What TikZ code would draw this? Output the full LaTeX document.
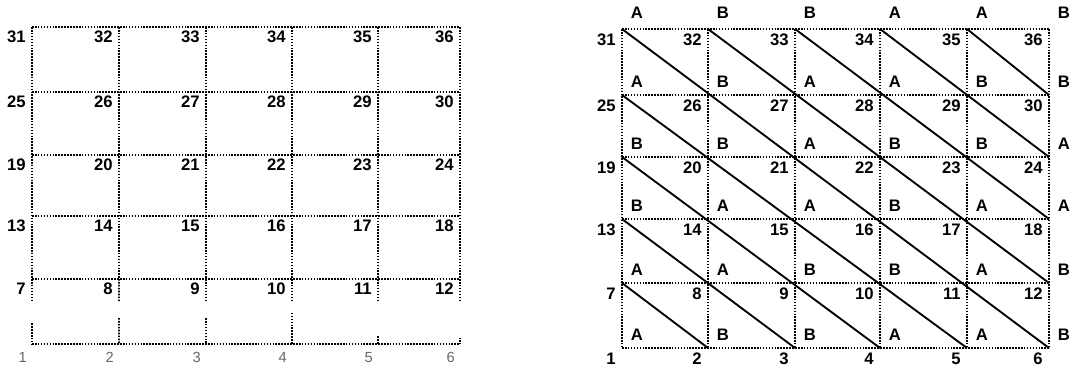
\documentclass[tikz,border=0pt]{standalone}
\usepackage{fontspec}
\setmainfont{Liberation Sans}
\usetikzlibrary{calc,positioning}
\tikzset{
  grid line/.style={line width=1.3pt, dash pattern=on 1.2pt off 1pt},
  diag line/.style={line width=1.4pt},
  pt num/.style={inner sep=0pt, font=\fontsize{12.5}{13}\selectfont\bfseries},
  axis num/.style={inner sep=0pt, text=black!60, font=\fontsize{11}{12}\selectfont},
  cell lab/.style={inner sep=0pt, font=\fontsize{12.5}{13}\selectfont\bfseries},
}

\begin{document}
\begin{tikzpicture}[x=0.75pt,y=-0.75pt]
  \useasboundingbox (0,0) rectangle (1071,367);
  % grid points, left (L) and right (R)
  \foreach \c/\lx/\rx in {1/32/622,2/119/708,3/206/795,4/292/880,5/378/967,6/460/1049}{
    \foreach \r/\ly/\ry in {1/344/348,2/279/283,3/216/219,4/155/157,5/92/95,6/27/29}{
      \coordinate (L-\c-\r) at (\lx,\ly);
      \coordinate (R-\c-\r) at (\rx,\ry);
    }
  }
  % left grid
  \foreach \r in {1,...,6}{\draw[grid line] (L-1-\r) -- (L-6-\r);}
  \foreach \c/\f in {1/0.68,2/0.6,3/0.6,4/0.52,5/0.88,6/0.9}{
    \draw[grid line] (L-\c-6) -- (L-\c-2);
    \draw[grid line] (L-\c-2) -- ($(L-\c-2)!0.35!(L-\c-1)$);
    \draw[grid line] ($(L-\c-2)!\f!(L-\c-1)$) -- (L-\c-1);
  }
  % right grid
  \foreach \r in {1,...,6}{\draw[grid line] (R-1-\r) -- (R-6-\r);}
  \foreach \c in {1,...,6}{\draw[grid line] (R-\c-6) -- (R-\c-1);}
  \foreach \c in {1,...,5}{\draw[diag line] (R-\c-6) -- (R-6-\c);}
  \foreach \r in {2,...,5}{\draw[diag line] (R-1-\r) -- (R-\r-1);}
  % point numbers
  \foreach \r in {1,...,6}{
    \foreach \c in {1,...,6}{
      \pgfmathtruncatemacro{\n}{(\r-1)*6+\c}
      \ifnum\r=1
        \node[axis num, below left=6pt and 3.8pt of L-\c-\r] (ln-\n) {\n};
      \else
        \node[pt num, below left=3pt and 4.5pt of L-\c-\r] (ln-\n) {\n};
      \fi
      \node[pt num, below left=3.5pt and 4.5pt of R-\c-\r] (rn-\n) {\n};
    }
  }
  % A/B labels
  \foreach \r/\labs in {6/{A,B,B,A,A,B},5/{A,B,A,A,B,B},4/{B,B,A,B,B,A},
                        3/{B,A,A,B,A,A},2/{A,A,B,B,A,B},1/{A,B,B,A,A,B}}{
    \foreach \l [count=\c] in \labs {
      \ifnum\r=6
        \node[cell lab, above right=8pt and 6.5pt of R-\c-\r] (ab-\c-\r) {\l};
      \else
        \node[cell lab, above right=5.5pt and 6.5pt of R-\c-\r] (ab-\c-\r) {\l};
      \fi
    }
  }
\end{tikzpicture}
\end{document}
